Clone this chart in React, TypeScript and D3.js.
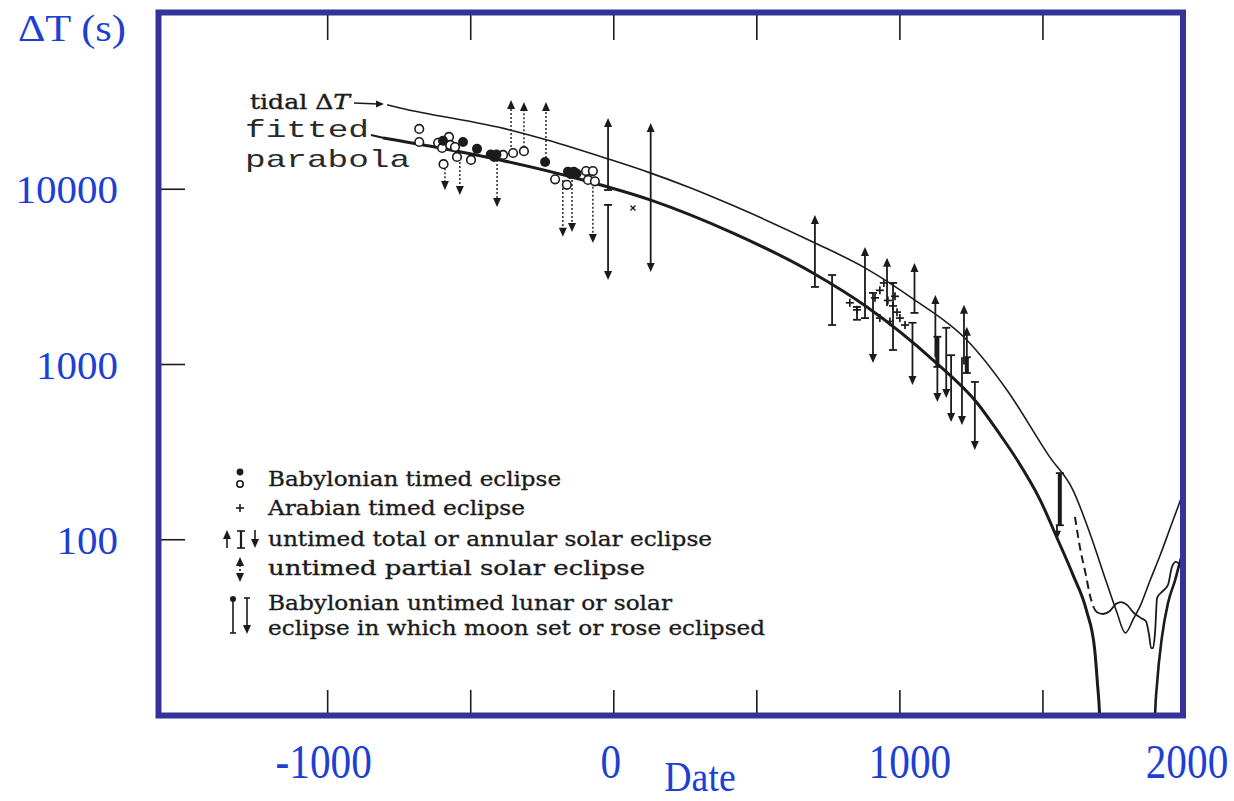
import React from "react";
import * as d3 from "d3";

// ---------- axis values ----------
const xTickValues = [-1000, -500, 0, 500, 1000, 1500];
const xLabelValues = [-1000, 0, 1000, 2000];
const yTickValues = [100, 1000, 10000];
const yLabelValues = [10000, 1000, 100];

// ---------- curves: [year, ΔT (s)] ----------
const tidalCurve: [number, number][] = [
  [-792, 30300], [-747, 29100], [-363, 21800], [-233, 19100], [-20, 14900],
  [127, 12400], [267, 10200], [417, 8070], [696, 5000], [878, 3560],
  [1046, 2370], [1234, 1380], [1374, 716], [1524, 296], [1605, 192],
  [1664, 109], [1723, 56.6], [1758, 38.7], [1788, 29.4], [1816, 35.3],
  [1840, 41.9], [1875, 58.9], [1910, 81.8], [1945, 117], [1990, 185],
];
const fittedLeft: [number, number][] = [
  [-806, 19600], [-607, 17200], [-398, 14700], [-108, 11300], [127, 8700],
  [417, 5620], [696, 3330], [885, 2130], [1116, 1060], [1270, 603],
  [1351, 396], [1410, 285], [1490, 169], [1552, 100], [1605, 63],
  [1653, 39], [1681, 23.5], [1691, 14.8], [1698, 10], [1702, 6],
];
const fittedRight: [number, number][] = [
  [1889, 6], [1892, 10], [1899, 15.2], [1916, 27.9], [1937, 43.5],
  [1962, 58.9], [1983, 78.7], [2000, 93],
];
const observedDashed: [number, number][] = [
  [1612, 135], [1629, 91], [1650, 63], [1664, 48.4], [1678, 40.8],
];
const observedSolid: [number, number][] = [
  [1678, 40.8], [1688, 38.7], [1710, 37.7], [1734, 39.2], [1755, 43],
  [1773, 44.1], [1794, 42.5], [1818, 38.2], [1842, 35.8], [1860, 34.3],
  [1871, 28.6], [1878, 24.1], [1885, 24.1], [1892, 29.8], [1899, 46.6],
  [1916, 50.4], [1937, 55.2], [1951, 70], [1965, 74.7], [1978, 72],
];

// ---------- observations ----------
const babylonianFilled: [number, number][] = [
  [-597, 18900], [-527, 18600], [-478, 17000], [-430, 15800], [-418, 15300],
  [-410, 15800], [-240, 14300], [-160, 12600], [-150, 12200], [-140, 12600],
  [-130, 12300],
];
const babylonianOpen: [number, number][] = [
  [-680, 22100], [-680, 18600], [-614, 18400], [-576, 19900], [-572, 17900],
  [-555, 17400], [-600, 17200], [-548, 15300], [-595, 13900], [-499, 14700],
  [-387, 15700], [-352, 16100], [-314, 16500], [-205, 11400], [-164, 10600],
  [-97, 12700], [-73, 12700], [-90, 11300], [-66, 11100],
];
const arabianTimed: [number, number][] = [
  [825, 2250], [850, 2050], [913, 2400], [930, 2650], [944, 2920],
  [958, 2320], [976, 2160], [990, 1990], [1000, 1840], [965, 1760],
  [930, 1840], [1018, 1680], [983, 2450],
];
const otherMarks: [number, number][] = [[67, 7820]];

// untimed total / annular solar eclipses: [year, base, arrow tip, capped base]
const totalLower: [number, number, number, boolean][] = [
  [-20, 9900, 25500, true], [129, 9270, 23900, false], [703, 2770, 7140, true],
  [878, 1840, 4690, true], [955, 2160, 4060, false], [1051, 1970, 3800, true],
  [1124, 1100, 2490, false], [1224, 1000, 2190, false], [1234, 900, 1640, false],
];
const totalUpper: [number, number, number, boolean][] = [
  [-20, 8140, 3040, true], [129, 9270, 3370, false], [906, 2560, 1020, true],
  [1044, 1730, 764, true], [1131, 1440, 611, false], [1162, 1620, 644, true],
  [1179, 1130, 470, true], [1217, 1100, 452, false], [1262, 795, 325, true],
  [1549, 121, 100, false],
];
const totalRanges: [number, number, number][] = [
  [763, 1680, 3240], [850, 1800, 2130], [976, 1210, 2920],
];
const heavyRanges: [number, number, number][] = [
  [1131, 969, 1440], [1234, 894, 1100], [1559, 121, 240],
];
// untimed partial / Babylonian untimed: [year, base, arrow tip]
const partialLower: [number, number, number][] = [
  [-359, 15700, 32300], [-314, 16500, 31500], [-237, 14300, 31500],
];
const partialUpper: [number, number, number][] = [
  [-590, 13900, 9900], [-538, 14300, 9270], [-408, 14700, 7930],
  [-178, 11300, 5350], [-146, 11300, 5710], [-73, 10900, 4940],
];

// ---------- legend ----------
const legendLines = [
  "Babylonian timed eclipse",
  "Arabian timed eclipse",
  "untimed total or annular solar eclipse",
  "untimed partial solar eclipse",
  "Babylonian untimed lunar or solar",
  "eclipse in which moon set or rose eclipsed",
];

const INK = "#1b1b1b";
const BLUE = "#1d3fd3";
const FRAME = "#333399";
const xLabelNudge: Record<number, number> = { [-1000]: -4, 0: -3, 1000: 10, 2000: 1 };

const upHead = (px: number, py: number) =>
  `M${px},${py} L${px - 4},${py + 9} L${px + 4},${py + 9} Z`;
const downHead = (px: number, py: number) =>
  `M${px},${py} L${px - 4},${py - 9} L${px + 4},${py - 9} Z`;

export default function App() {
  const x = d3.scaleLinear().domain([-1600, 2000]).range([156, 1186]);
  const y = d3.scaleLog().domain([10, 100000]).range([715, 14]);
  const line = d3
    .line<[number, number]>()
    .x((d) => x(d[0]))
    .y((d) => y(d[1]))
    .curve(d3.curveMonotoneX);

  const legendBase = [486, 515, 546, 575, 610, 635];
  const legendWidth = [293, 257, 444, 377, 404, 497];

  return (
    <svg
      width={1234}
      height={801}
      style={{ position: "absolute", left: 0, top: 0, background: "#fff" }}
    >
      <defs>
        <clipPath id="plotClip">
          <rect x={161} y={15} width={1019} height={698} />
        </clipPath>
      </defs>

      {/* axis titles */}
      <text x={18} y={41} fill={BLUE} fontFamily="Liberation Serif" fontSize={38}
        textLength={108} lengthAdjust="spacingAndGlyphs">ΔT (s)</text>
      {yLabelValues.map((v) => (
        <text key={v} x={118} y={y(v) + 14} textAnchor="end" fill={BLUE}
          fontFamily="Liberation Serif" fontSize={41}>{v}</text>
      ))}
      {xLabelValues.map((v) => {
        const cx = x(v) + (xLabelNudge[v] || 0);
        return (
          <text key={v} x={cx} y={778} textAnchor="middle" fill={BLUE}
            fontFamily="Liberation Serif" fontSize={48}
            transform={`translate(${cx},0) scale(0.86,1) translate(${-cx},0)`}>
            {v}
          </text>
        );
      })}
      <text x={700} y={791} textAnchor="middle" fill={BLUE} fontFamily="Liberation Serif"
        fontSize={42} transform="translate(700,0) scale(0.9,1) translate(-700,0)">Date</text>

      {/* ticks */}
      <g stroke={INK} strokeWidth={1.6}>
        {xTickValues.map((v) => (
          <g key={v}>
            <line x1={x(v)} x2={x(v)} y1={713} y2={690} />
            <line x1={x(v)} x2={x(v)} y1={15} y2={40} />
          </g>
        ))}
        {yTickValues.map((v) => (
          <line key={v} x1={161} x2={185} y1={y(v)} y2={y(v)} />
        ))}
      </g>

      <g clipPath="url(#plotClip)">
        {/* curves */}
        <path d={line(tidalCurve) || ""} fill="none" stroke={INK} strokeWidth={1.6} />
        <path d={line(fittedLeft) || ""} fill="none" stroke={INK} strokeWidth={3} />
        <path d={line(fittedRight) || ""} fill="none" stroke={INK} strokeWidth={2.6} />
        <path d={line(observedDashed) || ""} fill="none" stroke={INK} strokeWidth={2}
          strokeDasharray="8,5" />
        <path d={line(observedSolid) || ""} fill="none" stroke={INK} strokeWidth={1.8} />

        {/* partial eclipse limits (dotted) */}
        <g stroke={INK} strokeWidth={1.4} strokeDasharray="2,2" fill="none">
          {partialLower.map((d, i) => (
            <line key={"pl" + i} x1={x(d[0])} x2={x(d[0])} y1={y(d[1])} y2={y(d[2]) + 8} />
          ))}
          {partialUpper.map((d, i) => (
            <line key={"pu" + i} x1={x(d[0])} x2={x(d[0])} y1={y(d[1])} y2={y(d[2]) - 8} />
          ))}
        </g>
        <g fill={INK}>
          {partialLower.map((d, i) => (
            <path key={"plh" + i} d={upHead(x(d[0]), y(d[2]))} />
          ))}
          {partialUpper.map((d, i) => (
            <path key={"puh" + i} d={downHead(x(d[0]), y(d[2]))} />
          ))}
        </g>

        {/* total eclipse limits (solid) */}
        <g stroke={INK} strokeWidth={1.8}>
          {totalLower.map((d, i) => (
            <g key={"tl" + i}>
              <line x1={x(d[0])} x2={x(d[0])} y1={y(d[1])} y2={y(d[2]) + 8} />
              {d[3] && <line x1={x(d[0]) - 4} x2={x(d[0]) + 4} y1={y(d[1])} y2={y(d[1])} />}
            </g>
          ))}
          {totalUpper.map((d, i) => (
            <g key={"tu" + i}>
              <line x1={x(d[0])} x2={x(d[0])} y1={y(d[1])} y2={y(d[2]) - 8} />
              {d[3] && <line x1={x(d[0]) - 4} x2={x(d[0]) + 4} y1={y(d[1])} y2={y(d[1])} />}
            </g>
          ))}
          {totalRanges.map((d, i) => (
            <g key={"tr" + i}>
              <line x1={x(d[0])} x2={x(d[0])} y1={y(d[1])} y2={y(d[2])} />
              <line x1={x(d[0]) - 4} x2={x(d[0]) + 4} y1={y(d[1])} y2={y(d[1])} />
              <line x1={x(d[0]) - 4} x2={x(d[0]) + 4} y1={y(d[2])} y2={y(d[2])} />
            </g>
          ))}
          {heavyRanges.map((d, i) => (
            <g key={"hr" + i}>
              <line x1={x(d[0])} x2={x(d[0])} y1={y(d[1])} y2={y(d[2])} strokeWidth={4} />
              <line x1={x(d[0]) - 4} x2={x(d[0]) + 4} y1={y(d[1])} y2={y(d[1])} />
              <line x1={x(d[0]) - 4} x2={x(d[0]) + 4} y1={y(d[2])} y2={y(d[2])} />
            </g>
          ))}
        </g>
        <g fill={INK}>
          {totalLower.map((d, i) => (
            <path key={"tlh" + i} d={upHead(x(d[0]), y(d[2]))} />
          ))}
          {totalUpper.map((d, i) => (
            <path key={"tuh" + i} d={downHead(x(d[0]), y(d[2]))} />
          ))}
        </g>

        {/* Arabian timed */}
        <g stroke={INK} strokeWidth={1.7}>
          {arabianTimed.map((d, i) => (
            <g key={"ar" + i}>
              <line x1={x(d[0]) - 4} x2={x(d[0]) + 4} y1={y(d[1])} y2={y(d[1])} />
              <line x1={x(d[0])} x2={x(d[0])} y1={y(d[1]) - 4} y2={y(d[1]) + 4} />
            </g>
          ))}
          {otherMarks.map((d, i) => (
            <g key={"ox" + i} strokeWidth={1.3}>
              <line x1={x(d[0]) - 2.5} x2={x(d[0]) + 2.5} y1={y(d[1]) - 2.5} y2={y(d[1]) + 2.5} />
              <line x1={x(d[0]) - 2.5} x2={x(d[0]) + 2.5} y1={y(d[1]) + 2.5} y2={y(d[1]) - 2.5} />
            </g>
          ))}
        </g>

        {/* Babylonian timed */}
        <g>
          {babylonianOpen.map((d, i) => (
            <circle key={"bo" + i} cx={x(d[0])} cy={y(d[1])} r={4.3} fill="#fff"
              stroke={INK} strokeWidth={1.6} />
          ))}
          {babylonianFilled.map((d, i) => (
            <circle key={"bf" + i} cx={x(d[0])} cy={y(d[1])} r={5} fill={INK} />
          ))}
        </g>
      </g>

      {/* curve labels */}
      <text x={250} y={109} fill={INK} stroke={INK} strokeWidth={0.4}
        fontFamily="DejaVu Serif" fontSize={20}
        textLength={100} lengthAdjust="spacingAndGlyphs">
        tidal Δ<tspan fontStyle="italic">T</tspan>
      </text>
      <line x1={354} x2={378} y1={103} y2={104} stroke={INK} strokeWidth={1.5} />
      <path d="M384,104 L376,100.5 L376,107.5 Z" fill={INK} />
      <text x={245} y={137} fill="#2a2a2a" fontFamily="Liberation Mono" fontSize={24}
        textLength={124} lengthAdjust="spacingAndGlyphs">fitted</text>
      <text x={245} y={167} fill="#2a2a2a" fontFamily="Liberation Mono" fontSize={24}
        textLength={165} lengthAdjust="spacingAndGlyphs">parabola</text>
      <line x1={371} x2={384} y1={135} y2={138} stroke={INK} strokeWidth={2} />

      {/* legend */}
      <g fill={INK} stroke={INK} strokeWidth={0.35} fontFamily="DejaVu Serif" fontSize={21}>
        {legendLines.map((t, i) => (
          <text key={t} x={268} y={legendBase[i]} textLength={legendWidth[i]}
            lengthAdjust="spacingAndGlyphs">{t}</text>
        ))}
      </g>
      <g stroke={INK} fill={INK} strokeWidth={1.6}>
        <circle cx={240} cy={472} r={3.4} stroke="none" />
        <circle cx={240} cy={484} r={3.2} fill="#fff" />
        <line x1={236} x2={244} y1={508} y2={508} />
        <line x1={240} x2={240} y1={504} y2={512} />
        {/* total */}
        <line x1={227} x2={227} y1={538} y2={548} />
        <path d={upHead(227, 530)} stroke="none" />
        <line x1={241} x2={241} y1={531} y2={548} strokeWidth={2.2} />
        <line x1={237} x2={245} y1={531} y2={531} />
        <line x1={237} x2={245} y1={548} y2={548} />
        <line x1={255} x2={255} y1={530} y2={540} />
        <path d={downHead(255, 548)} stroke="none" />
        {/* partial */}
        <line x1={240} x2={240} y1={565} y2={574} strokeDasharray="2,2" />
        <path d={upHead(240, 557)} stroke="none" />
        <path d={downHead(240, 582)} stroke="none" />
        {/* babylonian untimed */}
        <circle cx={233} cy={599} r={3} stroke="none" />
        <line x1={233} x2={233} y1={600} y2={633} />
        <line x1={230} x2={236} y1={633} y2={633} />
        <line x1={244} x2={250} y1={598} y2={598} />
        <line x1={247} x2={247} y1={598} y2={626} />
        <path d={downHead(247, 634)} stroke="none" />
      </g>

      {/* frame */}
      <rect x={158.5} y={12.5} width={1024.5} height={703} fill="none"
        stroke={FRAME} strokeWidth={6} />
    </svg>
  );
}
